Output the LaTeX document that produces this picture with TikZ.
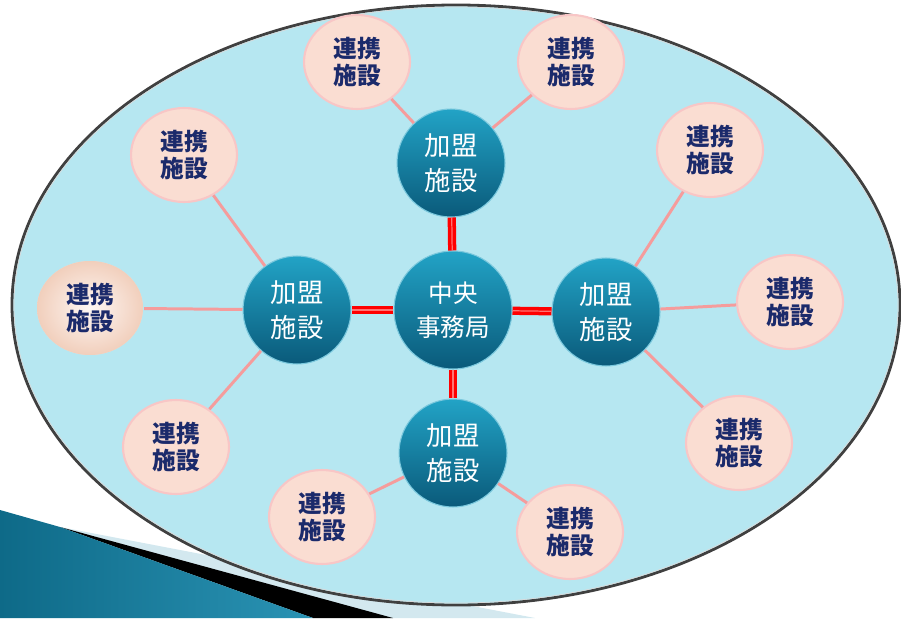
\documentclass[tikz,border=0pt]{standalone}
\usepackage{fontspec}
\newfontfamily\jp{Noto Sans CJK JP}
\usetikzlibrary{shapes.geometric}
\definecolor{skyfill}{HTML}{B6E7F1}
\definecolor{kanmeitop}{HTML}{22A3C6}
\definecolor{kanmeibot}{HTML}{0A5A7A}
\definecolor{renkeifill}{HTML}{FADDD2}
\definecolor{renkeiedge}{HTML}{F8C6C6}
\definecolor{renkeitext}{HTML}{1B2A6B}
\definecolor{linkpink}{HTML}{F59C9C}
\definecolor{wedgeblue}{HTML}{0E6A88}
\definecolor{wedgelight}{HTML}{2A93B4}
\definecolor{wedgehaze}{HTML}{D3E8EF}

\tikzset{
  kanmei/.style={circle, minimum size=2.16cm, inner sep=0pt,
    top color=kanmeitop, bottom color=kanmeibot, draw=kanmeitop!60!white,
    line width=0.6pt, text=white, align=center,
    font=\jp\fontsize{15}{20}\selectfont},
  renkei/.style={ellipse, minimum width=2.12cm, minimum height=1.88cm,
    inner sep=0pt, fill=renkeifill, draw=renkeiedge, line width=1.2pt,
    text=renkeitext, align=center,
    font=\jp\bfseries\fontsize{13.5}{15}\selectfont},
  honbu/.style={red, line width=2pt, double=red!55, double distance=0.7pt},
  renraku/.style={linkpink, line width=1.7pt}
}

\begin{document}
\begin{tikzpicture}[x=0.02cm, y=-0.02cm]
  \useasboundingbox (0, 0) rectangle (901, 618);

  % wedge at the bottom left
  \fill[wedgehaze] (60, 527) -- (535, 618) -- (390, 618) -- cycle;
  \fill[black] (60, 527) -- (393, 618) -- (313, 618) -- cycle;
  \shade[left color=wedgeblue, right color=wedgelight]
  (0, 510) -- (60, 527) -- (313, 618) -- (0, 618) -- cycle;

  % outer ellipse
  \draw[fill=skyfill, draw=black!75, line width=1.6pt]
  (456, 305) ellipse (444 and 300);
  \draw[white!70!gray, line width=0.4pt] (456, 305) ellipse (442 and 298);

  % centre and member facilities
  \node[kanmei, minimum size=2.36cm, font=\jp\fontsize{14}{19}\selectfont]
  (Chuo) at (453, 310) {中央\\事務局};
  \node[kanmei] (KTop) at (451, 163) {加盟\\施設};
  \node[kanmei] (KLeft) at (297, 310) {加盟\\施設};
  \node[kanmei] (KRight) at (606, 312) {加盟\\施設};
  \node[kanmei] (KBot) at (453, 453) {加盟\\施設};

  % partner facilities
  \node[renkei] (RTopL) at (357, 62) {連携\\施設};
  \node[renkei] (RTopR) at (571, 62) {連携\\施設};
  \node[renkei] (RLeftT) at (184, 155) {連携\\施設};
  \node[renkei, draw=none, inner color=white!75!renkeifill,
    outer color=renkeifill!85!brown] (RLeftM) at (90, 308) {連携\\施設};
  \node[renkei] (RLeftB) at (176, 447) {連携\\施設};
  \node[renkei] (RRightT) at (710, 150) {連携\\施設};
  \node[renkei] (RRightM) at (790, 302) {連携\\施設};
  \node[renkei] (RRightB) at (739, 443) {連携\\施設};
  \node[renkei] (RBotL) at (322, 517) {連携\\施設};
  \node[renkei] (RBotR) at (570, 532) {連携\\施設};

  % links
  \draw[honbu] (Chuo) -- (KTop);
  \draw[honbu] (Chuo) -- (KLeft);
  \draw[honbu] (Chuo) -- (KRight);
  \draw[honbu] (Chuo) -- (KBot);

  \draw[renraku] (KTop) -- (RTopL);
  \draw[renraku] (KTop) -- (RTopR);
  \draw[renraku] (KLeft) -- (RLeftT);
  \draw[renraku] (KLeft) -- (RLeftM);
  \draw[renraku] (KLeft) -- (RLeftB);
  \draw[renraku] (KRight) -- (RRightT);
  \draw[renraku] (KRight) -- (RRightM);
  \draw[renraku] (KRight) -- (RRightB);
  \draw[renraku] (KBot) -- (RBotL);
  \draw[renraku] (KBot) -- (RBotR);
\end{tikzpicture}
\end{document}
